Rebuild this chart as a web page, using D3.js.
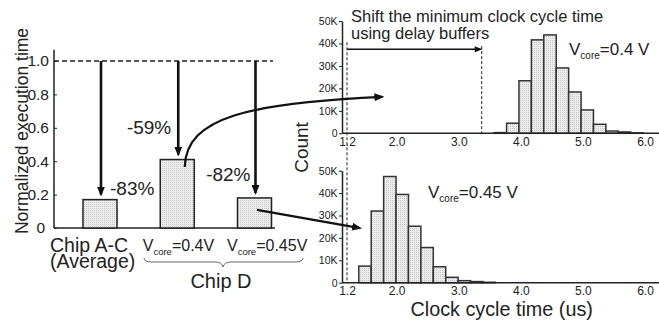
<!DOCTYPE html>
<html>
<head>
<meta charset="utf-8">
<script src="https://cdn.jsdelivr.net/npm/d3@7"></script>
<style>
  body { margin: 0; background: #fff; }
</style>
</head>
<body>
<div id="chart"></div>
<script>
// left chart data
var categories = ["Chip A-C", "Vcore=0.4V", "Vcore=0.45V"];
var normTime = [0.17, 0.41, 0.18];
var reduction = ["-83%", "-59%", "-82%"];
var leftTicks = [0, 0.2, 0.4, 0.6, 0.8, 1.0];

// histogram data (bin left edge in us, count)
var binWidth = 0.2;
var bins04 = [3.57, 3.77, 3.97, 4.17, 4.37, 4.57, 4.77, 4.97, 5.17, 5.37, 5.57, 5.77];
var counts04 = [300, 4500, 23400, 41600, 43800, 29100, 18400, 10400, 4000, 1000, 600, 200];
var bins045 = [1.39, 1.59, 1.79, 1.99, 2.19, 2.39, 2.59, 2.79, 2.99, 3.19, 3.39];
var counts045 = [7400, 32000, 47400, 39400, 25200, 15700, 7100, 2400, 900, 500, 200];
var countTicks = [0, 10000, 20000, 30000, 40000, 50000];
var clockTicks = [1.2, 2.0, 3.0, 4.0, 5.0, 6.0];
var minClock = 1.2, shiftedClock = 3.37;

var width = 659, height = 321;
var FONT = "'Liberation Sans', Arimo, Arial, Helvetica";

var svg = d3.select("#chart")
  .append("svg")
  .attr("width", width)
  .attr("height", height);

var defs = svg.append("defs");

// stippled grey fill like the print
var pat = defs.append("pattern")
  .attr("id", "dots")
  .attr("width", 2).attr("height", 2)
  .attr("patternUnits", "userSpaceOnUse");
pat.append("rect").attr("width", 2).attr("height", 2).attr("fill", "#ededed");
pat.append("rect").attr("width", 1).attr("height", 1).attr("fill", "#c6c6c6");

function marker(id, w, h) {
  defs.append("marker")
    .attr("id", id)
    .attr("viewBox", "0 0 10 8")
    .attr("refX", 8).attr("refY", 4)
    .attr("markerWidth", w).attr("markerHeight", h)
    .attr("markerUnits", "userSpaceOnUse")
    .attr("orient", "auto")
    .append("path")
    .attr("d", "M0,0L10,4L0,8Z")
    .attr("fill", "#111");
}
marker("head", 10, 8);
marker("headS", 8, 6);

// ---------- left bar chart ----------
var yL = d3.scaleLinear().domain([0, 1]).range([228, 61]);
var xL = d3.scalePoint().domain(categories).range([100, 254.5]);
var barW = 34;

var left = svg.append("g");

var yAxisL = d3.axisLeft(yL)
  .tickValues(leftTicks)
  .tickSizeInner(-3)
  .tickSizeOuter(0)
  .tickPadding(5)
  .tickFormat(function(d) { return d === 0 ? "0" : d3.format(".1f")(d); });

left.append("g")
  .attr("transform", "translate(54,0)")
  .call(yAxisL)
  .call(function(g) { g.select(".domain").remove(); })
  .call(function(g) {
    g.selectAll("line").attr("stroke", "#222");
    g.selectAll("text")
      .attr("font-size", 15.5)
      .attr("dx", function(d) { return d === 0 ? -4 : 0; });
  });

// axis lines
left.append("line")
  .attr("x1", 54).attr("x2", 54)
  .attr("y1", yL(0)).attr("y2", yL(1.067))
  .attr("stroke", "#222").attr("stroke-width", 1.5);
left.append("line")
  .attr("x1", 54).attr("x2", 275)
  .attr("y1", yL(0)).attr("y2", yL(0))
  .attr("stroke", "#222").attr("stroke-width", 1.5);

// baseline 1.0
left.append("line")
  .attr("x1", 54).attr("x2", 273)
  .attr("y1", yL(1)).attr("y2", yL(1))
  .attr("stroke", "#222").attr("stroke-width", 1.3)
  .attr("stroke-dasharray", "5,3");

left.selectAll("rect.bar")
  .data(normTime)
  .enter().append("rect")
  .attr("class", "bar")
  .attr("x", function(d, i) { return xL(categories[i]) - barW / 2; })
  .attr("y", function(d) { return yL(d); })
  .attr("width", barW)
  .attr("height", function(d) { return yL(0) - yL(d); })
  .attr("fill", "url(#dots)")
  .attr("stroke", "#222")
  .attr("stroke-width", 1.5);

// arrows from 1.0 down to each bar
left.selectAll("line.drop")
  .data(normTime)
  .enter().append("line")
  .attr("class", "drop")
  .attr("x1", function(d, i) { return xL(categories[i]) + 1; })
  .attr("x2", function(d, i) { return xL(categories[i]) + 1; })
  .attr("y1", yL(1))
  .attr("y2", function(d) { return yL(d) - 5; })
  .attr("stroke", "#111")
  .attr("stroke-width", 2.6)
  .attr("marker-end", "url(#head)");

// percentage labels
left.selectAll("text.pct")
  .data(reduction)
  .enter().append("text")
  .attr("class", "pct")
  .attr("font-size", 19)
  .attr("text-anchor", function(d, i) { return i === 0 ? "start" : "end"; })
  .attr("x", function(d, i) {
    var c = xL(categories[i]);
    return i === 0 ? c + 10 : (i === 1 ? c - 6 : c - 4);
  })
  .attr("y", function(d, i) {
    return i === 0 ? yL(normTime[0]) - 5 : (i === 1 ? 134 : 181);
  })
  .text(function(d) { return d; });

// category labels
left.append("text").attr("x", 50).attr("y", 251.5).attr("font-size", 19.5).text("Chip A-C");
left.append("text").attr("x", 50).attr("y", 268).attr("font-size", 19.5).text("(Average)");

function vcore(g, x, y, size, subSize, value) {
  var t = g.append("text").attr("x", x).attr("y", y).attr("font-size", size);
  t.append("tspan").text("V");
  t.append("tspan").attr("font-size", subSize).attr("dy", size * 0.25).text("core");
  t.append("tspan").attr("dy", -size * 0.25).text("=" + value);
  return t;
}
vcore(left, xL(categories[1]) - 34.5, 251, 16, 9.5, "0.4V");
vcore(left, xL(categories[2]) - 27.5, 251, 16, 9.5, "0.45V");

// brace under chip D
left.append("path")
  .attr("d", "M144,258 q0,4 8,4 L215,262 q7,0 8,5 q1,-5 8,-5 L295,262 q8,0 8,-4")
  .attr("fill", "none")
  .attr("stroke", "#555")
  .attr("stroke-width", 0.9);
left.append("text")
  .attr("x", 221).attr("y", 288)
  .attr("font-size", 20)
  .attr("text-anchor", "middle")
  .text("Chip D");

left.append("text")
  .attr("transform", "translate(28,131) rotate(-90)")
  .attr("font-size", 17.5)
  .attr("text-anchor", "middle")
  .text("Normalized execution time");

// ---------- right histograms ----------
var xH = d3.scaleLinear().domain([1.2, 6.0]).range([347, 645]);
var yTop = d3.scaleLinear().domain([0, 50000]).range([133.3, 21]);
var yBot = d3.scaleLinear().domain([0, 50000]).range([282.7, 170.7]);

function drawHist(yS, bins, counts) {
  var g = svg.append("g");

  g.selectAll("rect")
    .data(counts)
    .enter().append("rect")
    .attr("x", function(d, i) { return xH(bins[i]); })
    .attr("y", function(d) { return yS(d); })
    .attr("width", function(d, i) { return xH(bins[i] + binWidth) - xH(bins[i]); })
    .attr("height", function(d) { return yS(0) - yS(d); })
    .attr("fill", "url(#dots)")
    .attr("stroke", "#333")
    .attr("stroke-width", 1.5);

  g.append("g")
    .attr("transform", "translate(342,0)")
    .call(d3.axisLeft(yS)
      .tickValues(countTicks)
      .tickSizeInner(3)
      .tickSizeOuter(0)
      .tickPadding(1.5)
      .tickFormat(function(d) { return d === 0 ? "0" : (d / 1000) + "K"; }))
    .call(function(a) {
      a.select(".domain").attr("stroke", "#222").attr("stroke-width", 1.5);
      a.selectAll("line").attr("stroke", "#222");
      a.selectAll("text").attr("font-size", 10.5);
    });

  g.append("g")
    .attr("transform", "translate(0," + yS(0) + ")")
    .call(d3.axisBottom(xH)
      .tickValues(clockTicks)
      .tickSize(0)
      .tickPadding(4)
      .tickFormat(d3.format(".1f")))
    .call(function(a) {
      a.select(".domain").remove();
      a.selectAll("text").attr("font-size", 12);
    });

  g.append("line")
    .attr("x1", 342).attr("x2", 659)
    .attr("y1", yS(0)).attr("y2", yS(0))
    .attr("stroke", "#222").attr("stroke-width", 1.6);
}

drawHist(yTop, bins04, counts04);
drawHist(yBot, bins045, counts045);

// minimum clock cycle markers
svg.append("line")
  .attr("x1", xH(minClock)).attr("x2", xH(minClock))
  .attr("y1", yTop(40500)).attr("y2", yBot(0))
  .attr("stroke", "#222").attr("stroke-width", 1)
  .attr("stroke-dasharray", "3,2");
svg.append("line")
  .attr("x1", xH(shiftedClock)).attr("x2", xH(shiftedClock))
  .attr("y1", yTop(38800)).attr("y2", yTop(0))
  .attr("stroke", "#222").attr("stroke-width", 1)
  .attr("stroke-dasharray", "3,2");
svg.append("line")
  .attr("x1", xH(minClock)).attr("x2", xH(shiftedClock) - 1)
  .attr("y1", yTop(37400)).attr("y2", yTop(37400))
  .attr("stroke", "#111").attr("stroke-width", 1.4)
  .attr("marker-end", "url(#headS)");

svg.append("text").attr("x", 351).attr("y", 21.5).attr("font-size", 16.5)
  .text("Shift the minimum clock cycle time");
svg.append("text").attr("x", 351).attr("y", 38.5).attr("font-size", 16.5)
  .text("using delay buffers");

vcore(svg, 569, 55, 17, 10, "0.4 V");
vcore(svg, 428, 198, 17, 10, "0.45 V");

svg.append("text")
  .attr("transform", "translate(308,147.5) rotate(-90)")
  .attr("font-size", 19)
  .attr("text-anchor", "middle")
  .text("Count");

svg.append("text")
  .attr("x", 501.7).attr("y", 316)
  .attr("font-size", 19.8)
  .attr("text-anchor", "middle")
  .text("Clock cycle time (us)");

// curved arrows linking bars to histograms
var s1 = [xL(categories[1]) + 7.5, yL(normTime[1]) + 7.5];
var e1 = [xH(1.77), yTop(16200)];
svg.append("path")
  .attr("d", "M" + s1 + " C" + [s1[0] + 1, s1[1] - 50] + " " + [s1[0] + 65, e1[1] + 6] + " " + e1)
  .attr("fill", "none")
  .attr("stroke", "#111")
  .attr("stroke-width", 2.2)
  .attr("marker-end", "url(#head)");

var s2 = [xL(categories[2]) + 2.5, yL(normTime[2]) + 12];
var e2 = [xH(1.41), yBot(24400)];
svg.append("path")
  .attr("d", "M" + s2 + " L" + e2)
  .attr("fill", "none")
  .attr("stroke", "#111")
  .attr("stroke-width", 2.2)
  .attr("marker-end", "url(#head)");

// one font for every label, axes included
svg.selectAll("text").style("font-family", FONT).style("fill", "#222");
</script>
</body>
</html>
